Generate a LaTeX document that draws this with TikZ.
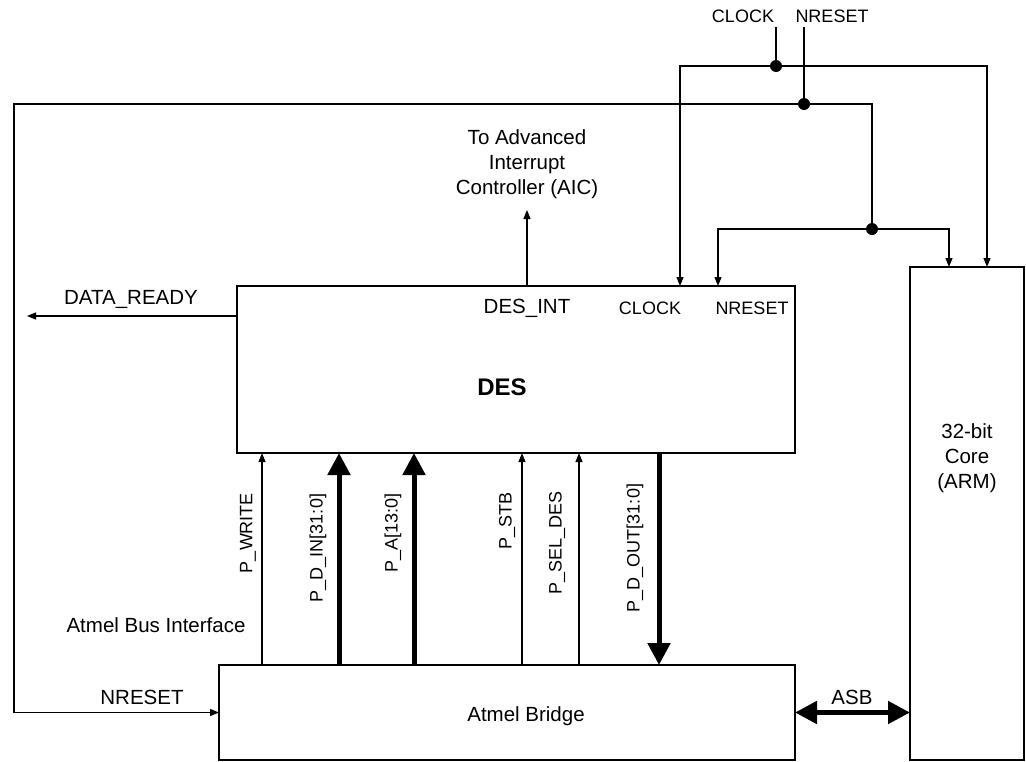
\documentclass[tikz,border=0pt]{standalone}
\usepackage{fontspec}
\setmainfont{Liberation Sans}
\usetikzlibrary{arrows.meta}
\begin{document}
\begin{tikzpicture}[x=1pt,y=-1pt,
  blk/.style={draw, line width=2.4pt, anchor=north west, inner sep=0pt, outer sep=0pt},
  wire/.style={line width=1.2pt},
  sig/.style={wire, -{Triangle[length=9pt,width=7pt]}},
  bus/.style={line width=5pt, -{Triangle[length=22pt,width=22pt]}},
  dbus/.style={line width=5pt, {Triangle[length=22pt,width=22pt]}-{Triangle[length=22pt,width=22pt]}},
  lbl/.style={font=\fontsize{20.5}{25}\selectfont, inner sep=0pt, align=center},
  slbl/.style={font=\fontsize{18}{22}\selectfont, inner sep=0pt},
  vlbl/.style={slbl, rotate=90},
  jdot/.style={circle, fill, inner sep=0pt, minimum size=12pt}]
\useasboundingbox (0,0) rectangle (1026,761);
% blocks
\node[blk, minimum width=558pt, minimum height=167pt] (des) at (237,286) {};
\node[blk, minimum width=576pt, minimum height=95pt] (bridge) at (219,665) {};
\node[blk, minimum width=114pt, minimum height=493pt] (core) at (910,267) {};
% texts
\node[font=\fontsize{24}{28}\selectfont\bfseries, inner sep=0pt] (destitle) at (502,387) {DES};
\node[lbl] (desint) at (527,308) {DES\_INT};
\node[slbl] (desclk) at (650,308) {CLOCK};
\node[slbl] (desrst) at (752,308) {NRESET};
\node[lbl] (bridgetxt) at (526,716) {Atmel Bridge};
\node[lbl] (coretxt) at (967,458) {32-bit\\Core\\(ARM)};
\node[lbl] (aic) at (527,164) {To Advanced\\Interrupt\\Controller (AIC)};
\node[lbl] (busif) at (156,625) {Atmel Bus Interface};
\node[lbl] (drlbl) at (131,299) {DATA\_READY};
\node[lbl] (nrlbl) at (142,697) {NRESET};
\node[lbl] (asblbl) at (852,697) {ASB};
\node[slbl] (clktop) at (743,16) {CLOCK};
\node[slbl] (rsttop) at (832,16) {NRESET};
% clock distribution
\coordinate (clkin) at (776,27);
\node[jdot] (jclk) at (776,66) {};
\draw[wire] (clkin) -- (jclk);
\draw[sig] (jclk) -| (680,0 |- des.north);
\draw[sig] (jclk) -| (987,0 |- core.north);
% reset distribution
\coordinate (rstin) at (804,27);
\node[jdot] (jrst) at (804,104) {};
\node[jdot] (jrst2) at (872,229) {};
\draw[wire] (rstin) -- (jrst);
\draw[sig] (jrst) -| (14,0 |- bridge.west) -- (bridge.west);
\draw[wire] (jrst) -| (jrst2);
\draw[sig] (jrst2) -| (718,0 |- des.north);
\draw[sig] (jrst2) -| (949,0 |- core.north);
% DES outputs
\coordinate (drout) at (27,316);
\draw[sig] (des.west |- drout) -- (drout);
\coordinate (aicin) at (527,210);
\draw[sig] (aicin |- des.north) -- (aicin);
% bus signals
\draw[sig] (262,0 |- bridge.north) -- (262,0 |- des.south);
\draw[bus] (339,0 |- bridge.north) -- (339,0 |- des.south);
\draw[bus] (414,0 |- bridge.north) -- (414,0 |- des.south);
\draw[sig] (522,0 |- bridge.north) -- (522,0 |- des.south);
\draw[sig] (579,0 |- bridge.north) -- (579,0 |- des.south);
\draw[bus] (659,0 |- des.south) -- (659,0 |- bridge.north);
\draw[dbus] (bridge.east) -- (core.west |- bridge.east);
% bus labels
\node[vlbl] (lwr) at (248,533) {P\_WRITE};
\node[vlbl] (ldin) at (318,548) {P\_D\_IN[31:0]};
\node[vlbl] (la) at (393,533) {P\_A[13:0]};
\node[vlbl] (lstb) at (507,521) {P\_STB};
\node[vlbl] (lsel) at (557,543) {P\_SEL\_DES};
\node[vlbl] (ldout) at (635,548) {P\_D\_OUT[31:0]};
\end{tikzpicture}
\end{document}
